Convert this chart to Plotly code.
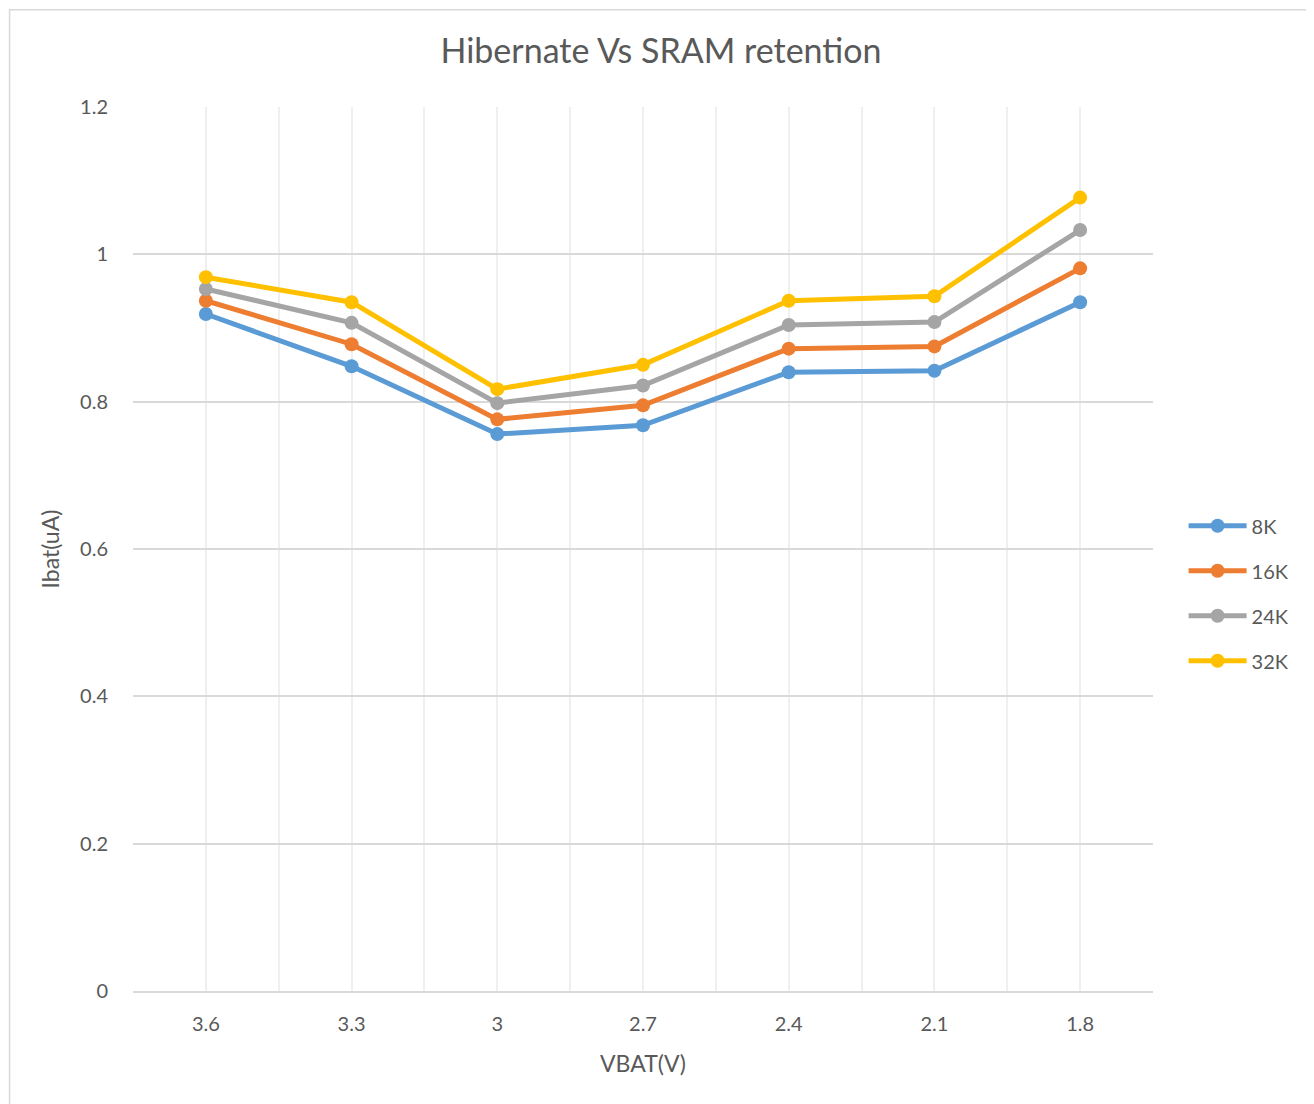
import plotly.graph_objects as go

# VBAT sweep (x categories) and battery current per SRAM retention size
vbat = ["3.6", "3.3", "3", "2.7", "2.4", "2.1", "1.8"]
ibat_8k = [0.919, 0.848, 0.756, 0.768, 0.840, 0.842, 0.935]
ibat_16k = [0.937, 0.878, 0.776, 0.795, 0.872, 0.875, 0.981]
ibat_24k = [0.953, 0.907, 0.798, 0.822, 0.904, 0.908, 1.033]
ibat_32k = [0.969, 0.935, 0.817, 0.850, 0.937, 0.943, 1.077]

names = ["8K", "16K", "24K", "32K"]
colors = ["#5B9BD5", "#ED7D31", "#A5A5A5", "#FFC000"]
font = "Lato, Calibri, sans-serif"

xpos = list(range(len(vbat)))
traces = []
for name, vals, col in zip(names, [ibat_8k, ibat_16k, ibat_24k, ibat_32k], colors):
    traces.append(go.Scatter(
        x=xpos, y=vals, name=name, mode="lines+markers",
        line=dict(color=col, width=5),
        marker=dict(color=col, size=14),
        legendgroup=name,
    ))

fig = go.Figure(data=traces)
fig.update_layout(
    width=1306, height=1096,
    margin=dict(l=125, r=161, t=99, b=113),
    plot_bgcolor="white", paper_bgcolor="white",
    font=dict(family=font, color="#595959", size=20),
    title=dict(text="Hibernate Vs SRAM retention", x=0.5, xanchor="center",
               y=1 - 43 / 1096, yanchor="middle",
               font=dict(size=34, color="#595959", family=font)),
    legend=dict(x=1.03, y=0.45, xanchor="left", yanchor="middle",
                font=dict(size=20, color="#595959"), tracegroupgap=16,
                itemwidth=58),
    shapes=[dict(type="rect", xref="paper", yref="paper",
                 x0=-0.121, x1=1.16, y0=-0.13, y1=1.110,
                 line=dict(color="#d9d9d9", width=1.5), layer="below")],
)
fig.update_xaxes(
    range=[-0.5, 6.5], tickmode="array", tickvals=xpos, ticktext=vbat,
    showgrid=True, gridcolor="#efefef", gridwidth=1.5,
    minor=dict(tickmode="linear", tick0=-0.5, dtick=1, showgrid=True,
               gridcolor="#efefef", gridwidth=1.5),
    showline=True, linecolor="#d9d9d9", linewidth=1.5,
    zeroline=False, ticks="", ticklabelstandoff=14,
    title=dict(text="VBAT(V)", font=dict(size=23, color="#595959"), standoff=22),
)
fig.update_yaxes(
    range=[0, 1.2], dtick=0.2, tick0=0,
    showgrid=True, gridcolor="#d9d9d9", gridwidth=1.5,
    zeroline=False, showline=False, ticks="", ticklabelstandoff=24,
    title=dict(text="Ibat(uA)", font=dict(size=23, color="#595959"), standoff=14),
)

fig.write_html("out.html")
